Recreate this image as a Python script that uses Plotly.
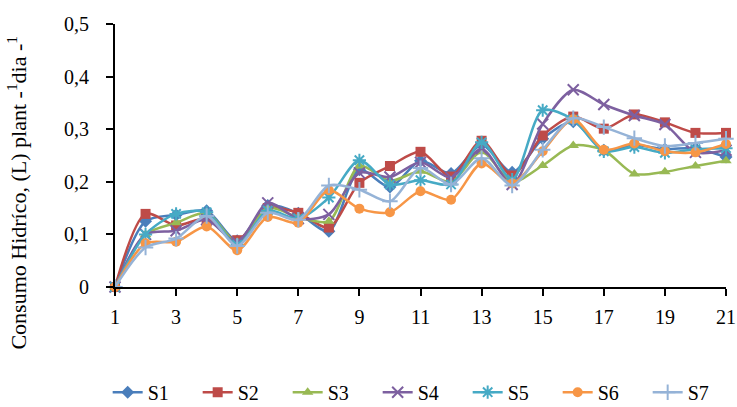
import plotly.graph_objects as go

days = list(range(1, 22))

S1 = [0, 0.125, 0.137, 0.145, 0.088, 0.155, 0.140, 0.106, 0.223, 0.190, 0.240,
      0.216, 0.270, 0.218, 0.282, 0.314, 0.260, 0.270, 0.262, 0.264, 0.247]
S2 = [0, 0.139, 0.117, 0.130, 0.089, 0.150, 0.141, 0.113, 0.198, 0.230, 0.257,
      0.210, 0.278, 0.212, 0.288, 0.324, 0.301, 0.328, 0.313, 0.293, 0.293]
S3 = [0, 0.100, 0.122, 0.141, 0.085, 0.150, 0.133, 0.125, 0.230, 0.202, 0.220,
      0.200, 0.257, 0.200, 0.231, 0.269, 0.260, 0.215, 0.219, 0.230, 0.240]
S4 = [0, 0.100, 0.107, 0.128, 0.085, 0.160, 0.130, 0.138, 0.217, 0.209, 0.237,
      0.208, 0.263, 0.195, 0.310, 0.375, 0.347, 0.326, 0.309, 0.256, 0.260]
S5 = [0, 0.100, 0.139, 0.142, 0.080, 0.145, 0.130, 0.170, 0.241, 0.195, 0.203,
      0.195, 0.275, 0.204, 0.336, 0.318, 0.258, 0.266, 0.255, 0.262, 0.264]
S6 = [0, 0.083, 0.086, 0.115, 0.070, 0.133, 0.122, 0.184, 0.149, 0.142, 0.182,
      0.166, 0.235, 0.197, 0.258, 0.319, 0.261, 0.273, 0.258, 0.256, 0.272]
S7 = [0, 0.075, 0.092, 0.135, 0.078, 0.141, 0.128, 0.193, 0.185, 0.163, 0.226,
      0.195, 0.245, 0.193, 0.261, 0.321, 0.304, 0.283, 0.268, 0.274, 0.282]

series_names = ["S1", "S2", "S3", "S4", "S5", "S6", "S7"]
series_values = [S1, S2, S3, S4, S5, S6, S7]
colors = ["#4A7EBB", "#BE4B48", "#98B954", "#7D60A0", "#46AAC5", "#F79646", "#95B3D7"]
symbols = ["diamond", "square", "triangle-up", "x-thin", "asterisk", "circle", "cross-thin"]

x_ticks = [1, 3, 5, 7, 9, 11, 13, 15, 17, 19, 21]
y_ticks = [0, 0.1, 0.2, 0.3, 0.4, 0.5]
y_tick_labels = ["0", "0,1", "0,2", "0,3", "0,4", "0,5"]

font = "'Liberation Serif', 'Times New Roman', serif"

fig = go.Figure()
for name, vals, col, sym in zip(series_names, series_values, colors, symbols):
    thin = sym in ("x-thin", "asterisk", "cross-thin")
    fig.add_trace(go.Scatter(
        x=days, y=vals, name=name, mode="lines+markers",
        line=dict(color=col, width=2.5, shape="spline", smoothing=0.8),
        marker=dict(symbol=sym, size=11 if thin else 10, color=col,
                    line=dict(color=col, width=2 if thin else 0)),
        cliponaxis=False,
    ))

fig.update_layout(
    width=737, height=407,
    margin=dict(l=115, r=11, t=24, b=120, autoexpand=False),
    paper_bgcolor="white", plot_bgcolor="white",
    font=dict(family=font, size=20, color="black"),
    showlegend=True,
    legend=dict(orientation="h", x=-0.012, xanchor="left", y=-0.40, yanchor="middle",
                font=dict(family=font, size=20, color="black"), entrywidth=45,
                entrywidthmode="pixels", itemwidth=30, bgcolor="rgba(0,0,0,0)"),
    xaxis=dict(range=[1, 21], tickvals=x_ticks, ticks="outside", ticklen=7, tickwidth=1.5,
               tickcolor="black", showline=True, linecolor="black", linewidth=2,
               showgrid=False, zeroline=False, tickfont=dict(family=font, size=20),
               ticklabelstandoff=4),
    yaxis=dict(range=[0, 0.5], tickvals=y_ticks, ticktext=y_tick_labels, ticks="outside",
               ticklen=7, tickwidth=1.5, tickcolor="black", showline=True, linecolor="black",
               linewidth=2, showgrid=False, zeroline=False, tickfont=dict(family=font, size=20),
               ticklabelstandoff=13),
    annotations=[dict(text="Consumo Hidríco, (L) plant -<sup>1</sup>dia -<sup>1</sup>",
                      xref="paper", yref="paper", x=-0.16, y=0.36, textangle=-90,
                      showarrow=False, xanchor="center", yanchor="middle",
                      font=dict(family=font, size=22, color="black"))],
)

fig.write_html("out.html", config={"displayModeBar": False},
               post_script="document.body.style.margin='0';document.body.style.overflow='hidden';")
